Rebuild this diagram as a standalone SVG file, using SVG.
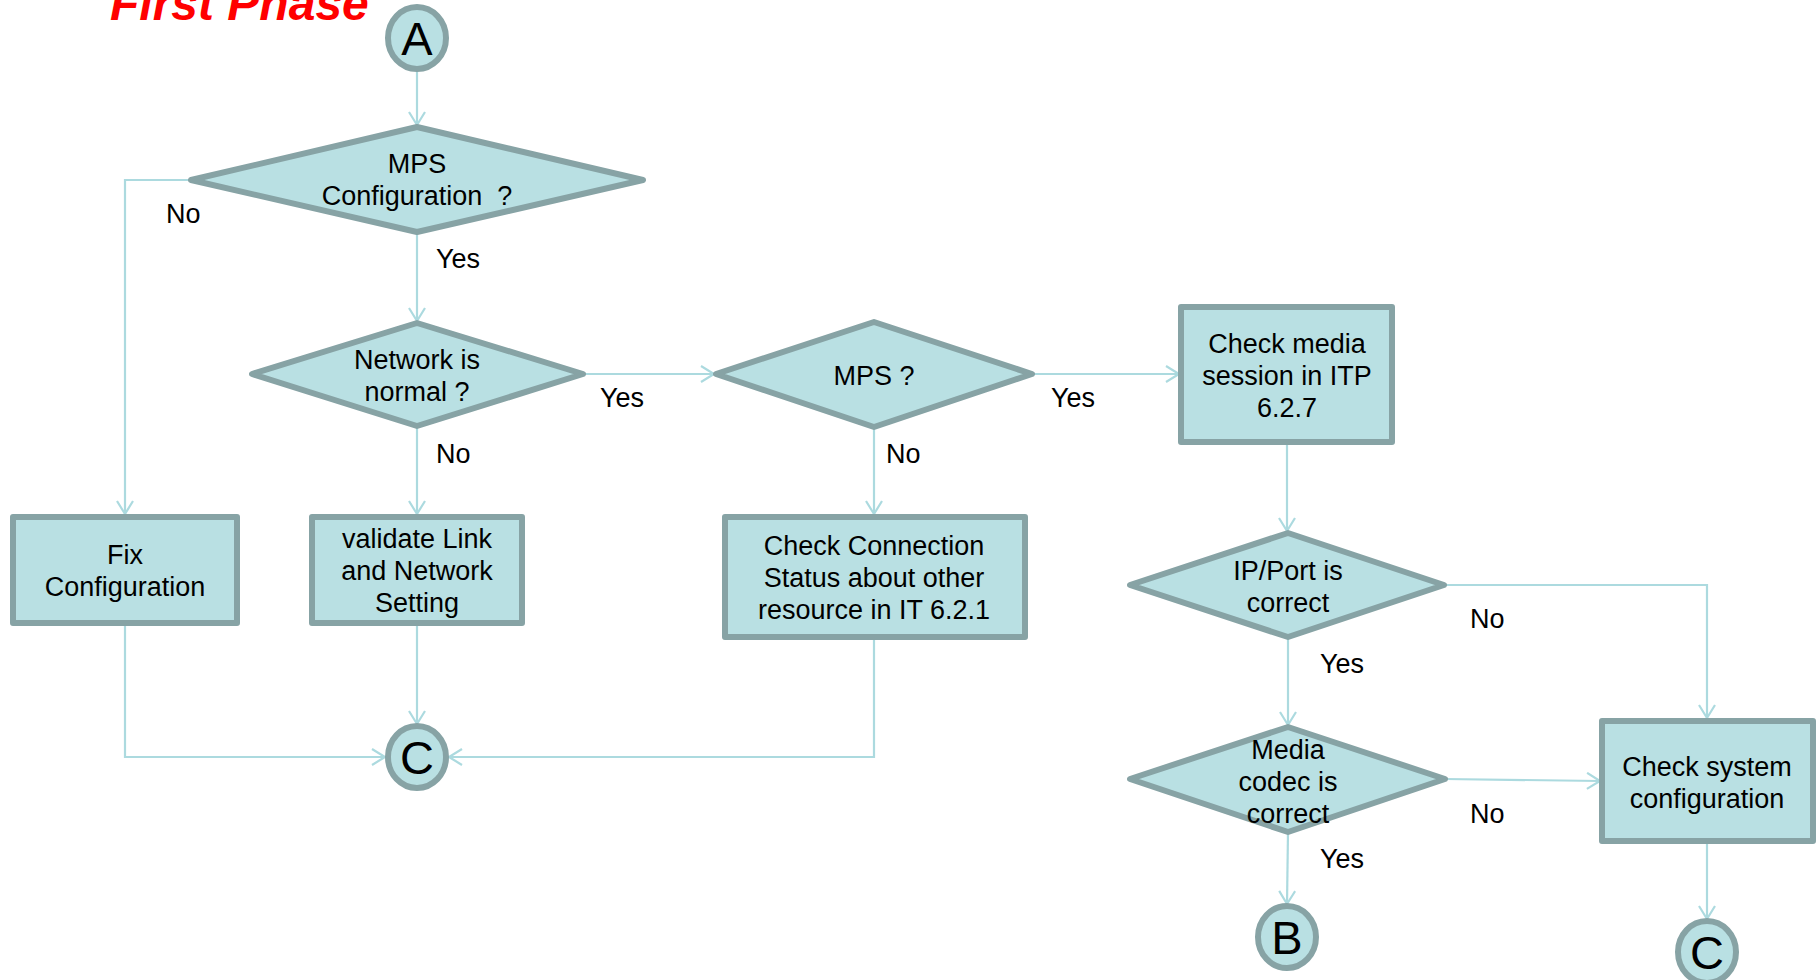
<svg xmlns="http://www.w3.org/2000/svg" width="1816" height="980" viewBox="0 0 1816 980">
<defs>
<style>
.n{fill:#b9e0e3;stroke:#87a3a5;stroke-width:6;stroke-linejoin:round}
.t{font-family:"Liberation Sans",Arial,sans-serif;font-size:27px;fill:#000;text-anchor:middle}
.l{font-family:"Liberation Sans",Arial,sans-serif;font-size:27px;fill:#000}
.c{font-family:"Liberation Sans",Arial,sans-serif;font-size:47px;fill:#000;text-anchor:middle}
.e{fill:none;stroke:#acdadf;stroke-width:2.2}
</style>
<marker id="ah" markerUnits="userSpaceOnUse" markerWidth="18" markerHeight="20" refX="14" refY="9" orient="auto">
<path d="M1,1 L14,9 L1,17" fill="none" stroke="#acdadf" stroke-width="2.2"/>
</marker>
</defs>
<rect width="1816" height="980" fill="#fff"/>
<text x="110" y="20" font-family="Liberation Sans,Arial,sans-serif" font-size="48" font-weight="bold" font-style="italic" fill="#ff0000">First Phase</text>

<g id="connectors">
<path class="e" d="M417,69 L417,125" marker-end="url(#ah)"/>
<path class="e" d="M417,232 L417,321" marker-end="url(#ah)"/>
<path class="e" d="M191,180 L125,180 L125,514" marker-end="url(#ah)"/>
<path class="e" d="M417,426 L417,514" marker-end="url(#ah)"/>
<path class="e" d="M583,374 L714,374" marker-end="url(#ah)"/>
<path class="e" d="M874,427 L874,514" marker-end="url(#ah)"/>
<path class="e" d="M1032,374 L1179,374" marker-end="url(#ah)"/>
<path class="e" d="M1287,442 L1287,531" marker-end="url(#ah)"/>
<path class="e" d="M1444,585 L1707,585 L1707,718" marker-end="url(#ah)"/>
<path class="e" d="M1288,637 L1288,725" marker-end="url(#ah)"/>
<path class="e" d="M1445,779 L1600,781" marker-end="url(#ah)"/>
<path class="e" d="M1288,832 L1287,904" marker-end="url(#ah)"/>
<path class="e" d="M1707,841 L1707,919" marker-end="url(#ah)"/>
<path class="e" d="M125,623 L125,757 L385,757" marker-end="url(#ah)"/>
<path class="e" d="M417,623 L417,724" marker-end="url(#ah)"/>
<path class="e" d="M874,637 L874,757 L449,757" marker-end="url(#ah)"/>
<text class="l" x="436" y="268">Yes</text>
<text class="l" x="166" y="223">No</text>
<text class="l" x="436" y="463">No</text>
<text class="l" x="600" y="407">Yes</text>
<text class="l" x="886" y="463">No</text>
<text class="l" x="1051" y="407">Yes</text>
<text class="l" x="1470" y="628">No</text>
<text class="l" x="1320" y="673">Yes</text>
<text class="l" x="1470" y="823">No</text>
<text class="l" x="1320" y="868">Yes</text>
</g>

<g id="nodeA">
<ellipse class="n" cx="417" cy="38" rx="29" ry="31"/>
<text class="c" x="417" y="55">A</text>
</g>
<g id="mpsConfig">
<polygon class="n" points="191,180 417,127 643,180 417,232"/>
<text class="t" x="417" y="173">MPS</text>
<text class="t" x="417" y="205" xml:space="preserve">Configuration  ?</text>
</g>
<g id="networkNormal">
<polygon class="n" points="252,374 417,323 583,374 417,426"/>
<text class="t" x="417" y="369">Network is</text>
<text class="t" x="417" y="401">normal ?</text>
</g>
<g id="fixConfig">
<rect class="n" x="13" y="517" width="224" height="106"/>
<text class="t" x="125" y="564">Fix</text>
<text class="t" x="125" y="596">Configuration</text>
</g>
<g id="validate">
<rect class="n" x="312" y="517" width="210" height="106"/>
<text class="t" x="417" y="548">validate Link</text>
<text class="t" x="417" y="580">and Network</text>
<text class="t" x="417" y="612">Setting</text>
</g>
<g id="mps">
<polygon class="n" points="716,374 874,322 1032,374 874,427"/>
<text class="t" x="874" y="385">MPS ?</text>
</g>
<g id="checkConnection">
<rect class="n" x="725" y="517" width="300" height="120"/>
<text class="t" x="874" y="555">Check Connection</text>
<text class="t" x="874" y="587">Status about other</text>
<text class="t" x="874" y="619">resource in IT 6.2.1</text>
</g>
<g id="checkMedia">
<rect class="n" x="1181" y="307" width="211" height="135"/>
<text class="t" x="1287" y="353">Check media</text>
<text class="t" x="1287" y="385">session in ITP</text>
<text class="t" x="1287" y="417">6.2.7</text>
</g>
<g id="ipPort">
<polygon class="n" points="1130,585 1288,533 1444,585 1288,637"/>
<text class="t" x="1288" y="580">IP/Port is</text>
<text class="t" x="1288" y="612">correct</text>
</g>
<g id="mediaCodec">
<polygon class="n" points="1130,779 1288,727 1445,779 1288,832"/>
<text class="t" x="1288" y="759">Media</text>
<text class="t" x="1288" y="791">codec is</text>
<text class="t" x="1288" y="823">correct</text>
</g>
<g id="checkSystem">
<rect class="n" x="1602" y="721" width="211" height="120"/>
<text class="t" x="1707" y="776">Check system</text>
<text class="t" x="1707" y="808">configuration</text>
</g>
<g id="nodeB">
<ellipse class="n" cx="1287" cy="937" rx="29" ry="31"/>
<text class="c" x="1287" y="954">B</text>
</g>
<g id="nodeC1">
<ellipse class="n" cx="417" cy="757" rx="29" ry="31"/>
<text class="c" x="417" y="774">C</text>
</g>
<g id="nodeC2">
<ellipse class="n" cx="1707" cy="952" rx="29" ry="31"/>
<text class="c" x="1707" y="969">C</text>
</g>
</svg>
